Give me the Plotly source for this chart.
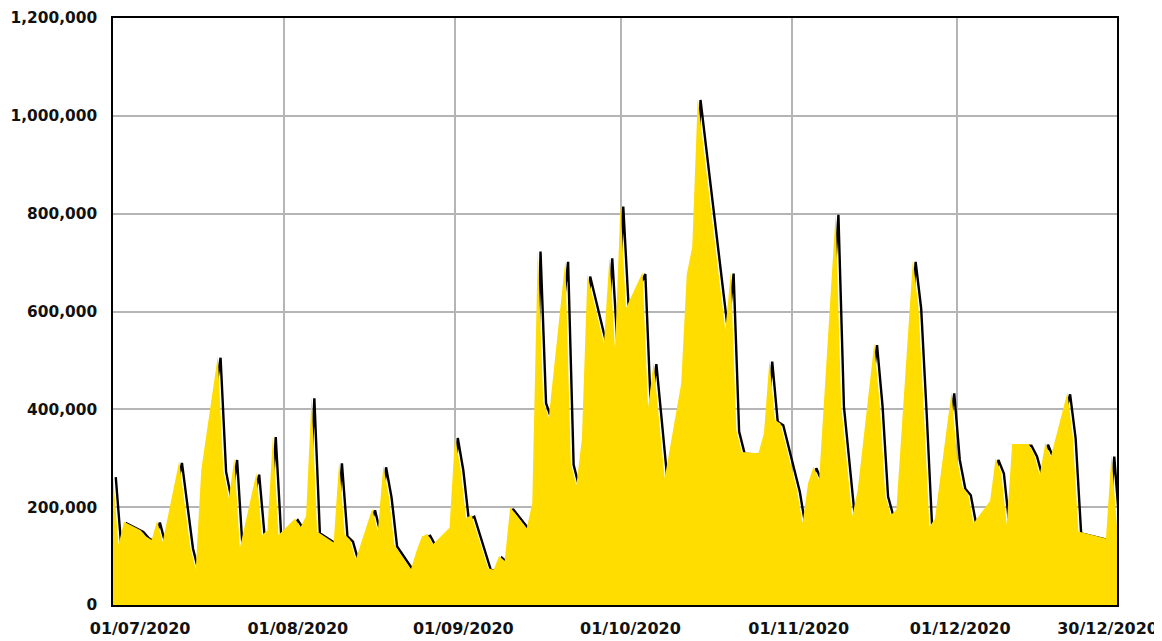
import pandas as pd
import plotly.graph_objects as go

# Business days 1 Jul 2020 - 30 Dec 2020 (weekends are joined by straight lines)
dates = pd.bdate_range("2020-07-01", "2020-12-30")

# Daily values, one per business day
jul = [265000, 123000, 170000,
       153000, 140000, 133000, 172000, 129000,
       294000, 210000, 119000, 73000, 276000,
       509000, 276000, 218000, 300000, 117000,
       270000, 143000, 153000, 347000, 143000]
aug = [177000, 159000, 182000, 426000, 150000,
       128000, 293000, 144000, 133000, 93000,
       197000, 150000, 285000, 223000, 123000,
       73000, 110000, 140000, 145000, 124000,
       158000]
sep = [345000, 279000, 178000, 184000,
       75000, 72000, 100000, 90000, 200000,
       157000, 208000, 726000, 416000, 383000,
       705000, 290000, 245000, 340000, 675000,
       535000, 712000, 525000]
octo = [818000, 607000,
        680000, 404000, 496000, 378000, 259000,
        453000, 675000, 732000, 1036000, 941000,
        657000, 562000, 681000, 358000, 313000,
        310000, 351000, 501000, 378000, 371000]
nov = [235000, 167000, 249000, 283000, 256000,
       801000, 409000, 300000, 181000, 235000,
       535000, 410000, 225000, 184000, 194000,
       705000, 610000, 395000, 160000, 177000,
       436000]
dec = [300000, 241000, 228000, 167000,
       213000, 300000, 272000, 164000, 329000,
       329000, 307000, 266000, 331000, 303000,
       434000, 344000, 150000, 147000, 144000,
       136000, 307000, 160000]
values = jul + aug + sep + octo + nov + dec

# Axis ticks
grid_dates = ["2020-07-01", "2020-08-01", "2020-09-01", "2020-10-01",
              "2020-11-01", "2020-12-01", "2020-12-30"]
label_texts = ["01/07/2020", "01/08/2020", "01/09/2020", "01/10/2020",
               "01/11/2020", "01/12/2020", "30/12/2020"]
label_dates = ["2020-07-05 22:00", "2020-08-03 12:00", "2020-09-02 12:00",
               "2020-10-02 19:00", "2020-11-02 07:00", "2020-12-01 14:00",
               "2020-12-28 07:00"]
y_ticks = [0, 200000, 400000, 600000, 800000, 1000000, 1200000]

YELLOW = "#FFDD00"
GRID = "#b5b5b5"
x_range = ["2020-07-01", "2020-12-30"]

shadow_x = dates + pd.Timedelta(hours=12)
shadow_y = [v - 3500 for v in values]

fig = go.Figure()
# drop shadow line (drawn first, under the fill)
fig.add_trace(go.Scatter(x=shadow_x, y=shadow_y, mode="lines",
                         line=dict(color="#000000", width=2.4),
                         hoverinfo="skip", showlegend=False))
# yellow area
fig.add_trace(go.Scatter(x=dates, y=values, mode="lines", fill="tozeroy",
                         fillcolor=YELLOW, line=dict(color=YELLOW, width=0),
                         showlegend=False))
# invisible trace carrying the label axis
fig.add_trace(go.Scatter(x=dates, y=values, mode="lines", xaxis="x2",
                         line=dict(width=0), opacity=0, hoverinfo="skip",
                         showlegend=False))

x_font = dict(family="DejaVu Sans", size=16, color="#111111", weight="bold")
y_font = dict(family="DejaVu Sans", size=15.4, color="#111111", weight="bold")

# the page body adds an 8px margin, so the figure is sized to fit the window
fig.update_layout(
    width=1154, height=633,
    margin=dict(l=105, r=45, t=10, b=36, autoexpand=False),
    paper_bgcolor="white", plot_bgcolor="white",
    showlegend=False,
    xaxis=dict(type="date", range=x_range, tickvals=grid_dates,
               showticklabels=False, showgrid=True, gridcolor=GRID, gridwidth=1.5,
               showline=True, linecolor="#000000", linewidth=1.5, mirror=True,
               ticks="", zeroline=False, automargin=False),
    xaxis2=dict(type="date", range=x_range, overlaying="x", side="bottom",
                tickvals=label_dates, ticktext=label_texts, showgrid=False,
                showline=False, ticks="", zeroline=False, tickfont=x_font,
                ticklabelstandoff=12, automargin=False),
    yaxis=dict(range=[0, 1200000], tickvals=y_ticks, tickformat=",d",
               showgrid=True, gridcolor=GRID, gridwidth=1.5,
               showline=True, linecolor="#000000", linewidth=1.5, mirror=True,
               ticks="", zeroline=False, tickfont=y_font,
               ticklabelstandoff=11, automargin=False),
)

fig.write_html("out.html")
